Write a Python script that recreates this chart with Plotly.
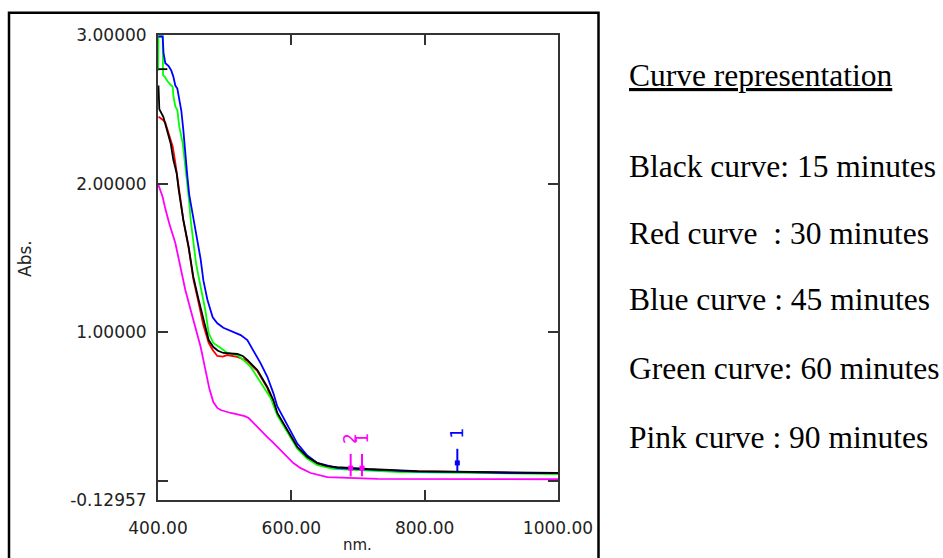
import plotly.graph_objects as go

# ---------------- data ----------------
blue_nm = [400.5, 407, 408.3, 411, 416, 420, 423, 426, 429, 432, 435, 438, 441, 444, 447, 453,
           459, 464, 468, 474, 482, 489, 498, 513, 524, 534, 543, 554, 564, 573, 579, 594,
           609, 624, 639, 669, 714, 760, 790, 850, 900, 925, 1000]
blue_abs = [2.99, 2.99, 2.88, 2.81, 2.79, 2.76, 2.72, 2.66, 2.64, 2.56, 2.49, 2.36, 2.19, 2.05, 1.92, 1.77,
            1.62, 1.49, 1.35, 1.22, 1.10, 1.06, 1.03, 1.00, 0.98, 0.947, 0.88, 0.79, 0.70, 0.59, 0.50, 0.37,
            0.25, 0.17, 0.12, 0.085, 0.075, 0.066, 0.062, 0.060, 0.056, 0.052, 0.052]

red_nm = [400.7, 407, 411, 416, 422, 426, 431, 438, 446, 453, 461, 468, 476, 482, 489, 497, 504,
          512, 519, 534, 549, 564, 579, 594, 609, 624, 639, 669, 760, 1000]
red_abs = [2.45, 2.43, 2.41, 2.34, 2.25, 2.14, 1.97, 1.755, 1.566, 1.358, 1.196, 1.048, 0.927, 0.88, 0.84,
           0.835, 0.846, 0.84, 0.833, 0.806, 0.739, 0.624, 0.449, 0.335, 0.22, 0.153, 0.113, 0.085, 0.065, 0.050]

green_nm = [400.2, 400.6, 407, 407.6, 410, 414, 418, 422, 423.3, 426, 429, 432, 437, 440, 444, 446.5, 449,
            453, 457, 464, 471, 476, 483, 494, 504, 519, 528, 539, 549, 558, 569, 579, 594, 609,
            624, 639, 663, 764, 1000]
green_abs = [2.76, 2.99, 2.99, 2.73, 2.72, 2.69, 2.67, 2.65, 2.583, 2.52, 2.495, 2.381, 2.273, 2.159, 2.024, 1.89,
             1.755, 1.62, 1.465, 1.304, 1.149, 0.994, 0.927, 0.893, 0.860, 0.846, 0.813, 0.766, 0.698, 0.631,
             0.557, 0.44, 0.325, 0.215, 0.148, 0.105, 0.080, 0.059, 0.045]

pink_nm = [400.7, 407, 411, 417, 426, 434, 441, 449, 456, 464, 471, 477, 483, 489, 494, 501, 509,
           516, 524, 530, 536, 543, 549, 556, 564, 572, 579, 591, 603, 614, 629, 654, 729, 1000]
pink_abs = [1.99, 1.91, 1.83, 1.73, 1.60, 1.44, 1.284, 1.149, 1.035, 0.90, 0.75, 0.62, 0.53, 0.49, 0.476,
            0.466, 0.456, 0.45, 0.443, 0.435, 0.422, 0.39, 0.362, 0.325, 0.294, 0.26, 0.227, 0.173, 0.119,
            0.085, 0.052, 0.025, 0.012, 0.010]

black_nm = [400.5, 414, None, 400.7, 402, 408, 414, 419, 423, 428, 431, 435, 438, 446, 453, 461, 468,
            476, 483, 490, 498, 508, 519, 527, 534, 549, 564, 573, 579, 594, 609, 614, 624, 639, 654,
            669, 714, 789, 924, 1000]
black_abs = [2.77, 2.77, None, 2.66, 2.50, 2.45, 2.36, 2.27, 2.16, 2.07, 1.96, 1.84, 1.755, 1.573, 1.371,
             1.216, 1.082, 0.947, 0.900, 0.875, 0.860, 0.856, 0.853, 0.840, 0.813, 0.745, 0.631, 0.543,
             0.456, 0.342, 0.227, 0.205, 0.160, 0.119, 0.099, 0.092, 0.079, 0.065, 0.059, 0.052]

# peak-pick markers
peak_nm = [689, 706, 849]
peak_abs = [0.085, 0.085, 0.12]
peak_labels = ["2", "1", "1"]
peak_colors = ["#ff00ff", "#ff00ff", "#0000ff"]

# axis ticks
x_ticks = [400, 600, 800, 1000]
x_ticktext = ["400.00", "600.00", "800.00", "1000.00"]
y_ticks = [-0.12957, 0, 1, 2, 3]
y_ticktext = ["-0.12957", "", "1.00000", "2.00000", "3.00000"]

legend_title = "Curve representation"
legend_lines = ["Black curve: 15 minutes", "Red curve\u00a0 : 30 minutes", "Blue curve : 45 minutes",
                "Green curve: 60 minutes", "Pink curve : 90 minutes"]

# ---------------- figure ----------------
W, H = 943, 558
ML, MR, MT, MB = 158, 385, 35, 58
PW, PH = W - ML - MR, H - MT - MB


def px_x(p):
    return (p - ML) / PW


def px_y(p):
    return (H - MB - p) / PH


fig = go.Figure()

series = [
    ("Red curve: 30 minutes", red_nm, red_abs, "#ff0000"),
    ("Green curve: 60 minutes", green_nm, green_abs, "#00ff00"),
    ("Blue curve: 45 minutes", blue_nm, blue_abs, "#0000ff"),
    ("Pink curve: 90 minutes", pink_nm, pink_abs, "#ff00ff"),
    ("Black curve: 15 minutes", black_nm, black_abs, "#000000"),
]
for name, xs, ys, col in series:
    fig.add_trace(go.Scatter(x=xs, y=ys, mode="lines", name=name,
                             line=dict(color=col, width=1.8), connectgaps=False,
                             hoverinfo="x+y+name"))

for nm, ab, lab, col in zip(peak_nm, peak_abs, peak_labels, peak_colors):
    fig.add_trace(go.Scatter(x=[nm, nm], y=[ab + 0.095, ab - 0.055], mode="lines",
                             line=dict(color=col, width=2), showlegend=False, hoverinfo="skip"))
    fig.add_trace(go.Scatter(x=[nm], y=[ab], mode="markers",
                             marker=dict(color=col, symbol="square", size=5),
                             showlegend=False, hoverinfo="x+y"))
    fig.add_annotation(x=nm, y=ab + 0.2, xref="x", yref="y", text=lab, showarrow=False,
                       textangle=-90, xanchor="center", yanchor="middle",
                       font=dict(family="DejaVu Sans", size=17, color=col))

axis_common = dict(showgrid=False, zeroline=False, showline=True, linecolor="#333333", linewidth=2,
                   mirror="ticks", ticks="inside", ticklen=10, tickwidth=2, tickcolor="#333333",
                   tickfont=dict(family="DejaVu Sans", size=17, color="#222222"))

fig.update_xaxes(range=[400, 1000], tickmode="array", tickvals=x_ticks, ticktext=x_ticktext,
                 ticklabelstandoff=12, **axis_common)
fig.update_yaxes(range=[-0.12957, 3.0], tickmode="array", tickvals=y_ticks, ticktext=y_ticktext,
                 ticklabelstandoff=6, **axis_common)

# axis titles
fig.add_annotation(x=px_x(25), y=px_y(259), xref="paper", yref="paper", text="Abs.", showarrow=False,
                   textangle=-90, xanchor="center", yanchor="middle",
                   font=dict(family="DejaVu Sans", size=17, color="#222222"))
fig.add_annotation(x=px_x(357), y=px_y(545), xref="paper", yref="paper", text="nm.", showarrow=False,
                   xanchor="center", yanchor="middle",
                   font=dict(family="DejaVu Sans", size=15, color="#222222"))

# outer frame
fig.add_shape(type="rect", xref="paper", yref="paper", x0=px_x(9), x1=px_x(598.5),
              y0=px_y(575), y1=px_y(12.7), line=dict(color="black", width=2.5), fillcolor="rgba(0,0,0,0)")

# legend text
legend_rows_px = [76, 166, 233, 300, 368, 437]
texts = ["<u>" + legend_title + "</u>"] + legend_lines
for t, ypx in zip(texts, legend_rows_px):
    fig.add_annotation(x=px_x(627), y=px_y(ypx), xref="paper", yref="paper", text=t, showarrow=False,
                       xanchor="left", yanchor="middle",
                       font=dict(family="Liberation Serif", size=31.5, color="black"))

fig.update_layout(width=W, height=H, margin=dict(l=ML, r=MR, t=MT, b=MB, autoexpand=False),
                  paper_bgcolor="white", plot_bgcolor="white", showlegend=False)

fig.write_html("out.html")
